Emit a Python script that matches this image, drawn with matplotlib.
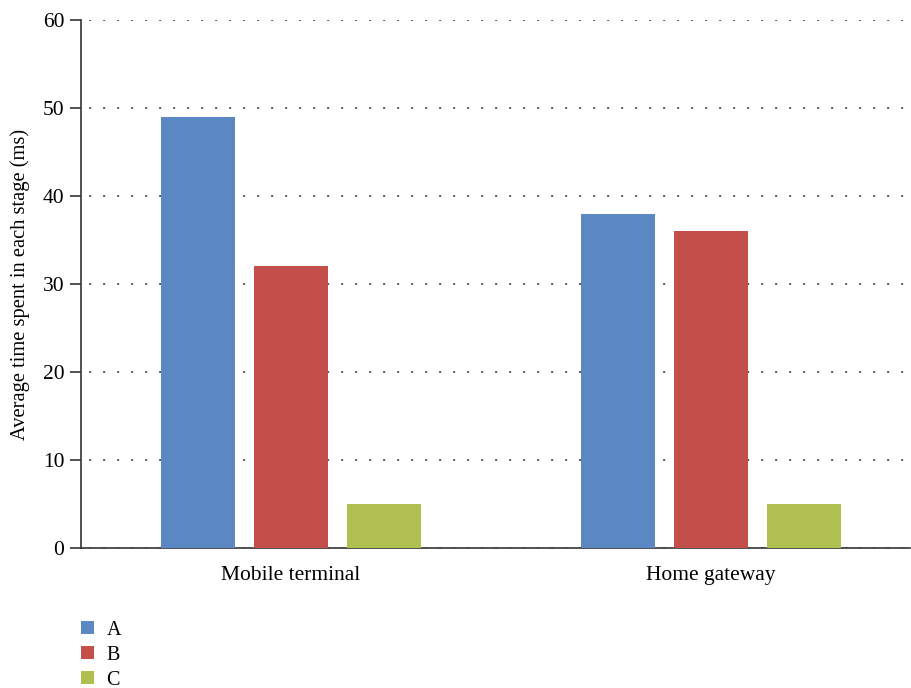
import numpy as np
import matplotlib
matplotlib.use("Agg")
import matplotlib.pyplot as plt
from matplotlib.patches import Patch

plt.rcParams['font.family'] = ['Liberation Serif', 'DejaVu Serif']

categories = ['Mobile terminal', 'Home gateway']
series_names = ['A', 'B', 'C']
values_a = [49, 38]
values_b = [32, 36]
values_c = [5, 5]
colors = ['#5b87c3', '#c44e4a', '#afc050']

fig = plt.figure(figsize=(9.12, 6.88), dpi=100)
ax = fig.add_axes([0.0888, 0.2035, 0.9090, 0.7674])

x = np.arange(len(categories))
width = 0.176
step = 0.221
for i, (vals, c) in enumerate(zip([values_a, values_b, values_c], colors)):
    ax.bar(x + (i - 1) * step, vals, width, color=c, zorder=3)

ax.set_xlim(-0.5, 1.474)
ax.set_ylim(0, 60)
ax.set_yticks(range(0, 61, 10))
ax.set_xticks(x)
ax.set_xticklabels(categories)
ax.set_ylabel('Average time spent in each stage (ms)', fontsize=14.8, labelpad=9)

# dotted horizontal gridlines
ax.yaxis.grid(True, linestyle=(3, (1, 6.2)), color='#555555', linewidth=1.4)
for s in ['top', 'right']:
    ax.spines[s].set_visible(False)
for s in ['left', 'bottom']:
    ax.spines[s].set_color('#333333')
    ax.spines[s].set_linewidth(1.2)
ax.tick_params(axis='y', length=8, width=1.2, color='#333333', labelsize=15.5, pad=4)
ax.tick_params(axis='x', length=0, labelsize=15.5, pad=13)

handles = [Patch(facecolor=c, edgecolor='none') for c in colors]
fig.legend(handles, series_names, loc='upper left', bbox_to_anchor=(0.078, 0.1125),
           frameon=False, fontsize=14.5, handlelength=0.65, handleheight=0.65,
           labelspacing=0.3, handletextpad=0.6, borderpad=0)

fig.savefig('out.png', dpi=100)
